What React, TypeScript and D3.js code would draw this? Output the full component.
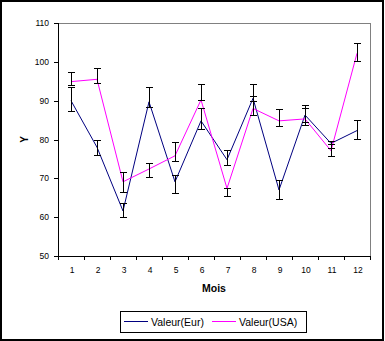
import React from "react";
import * as d3 from "d3";

const months = ["1", "2", "3", "4", "5", "6", "7", "8", "9", "10", "11", "12"];
const eur = [90.0, 78.0, 61.6, 89.7, 69.1, 84.8, 74.8, 90.6, 67.0, 86.3, 79.0, 82.3];
const usa = [94.9, 95.5, 69.1, 72.4, 75.8, 90.2, 67.4, 88.0, 84.8, 85.3, 77.1, 102.2];
const eurLow = [87.3, 75.8, 60.0, 88.3, 66.1, 82.6, 73.2, 89.7, 64.6, 84.3, 77.6, 79.9];
const eurHigh = [93.3, 79.8, 63.6, 93.4, 70.8, 87.9, 77.2, 94.1, 69.5, 88.7, 79.6, 84.9];
const usaLow = [93.8, 94.3, 66.3, 70.3, 74.3, 90.1, 65.2, 86.1, 83.4, 83.5, 75.6, 100.2];
const usaHigh = [97.3, 98.3, 71.5, 73.8, 79.3, 94.1, 67.4, 91.2, 87.8, 87.9, 78.8, 104.8];
const yTicks = [50, 60, 70, 80, 90, 100, 110];
const seriesNames = ["Valeur(Eur)", "Valeur(USA)"];

const W = 385;
const H = 341;
const L = 58, R = 370, T = 23, B = 256;
const font = "'Liberation Sans', Arial, sans-serif";

export default function App() {
  const x = d3.scaleBand<string>().domain(months).range([L, R]).padding(0);
  const y = d3.scaleLinear().domain([50, 110]).range([B, T]);
  const cx = (m: string) => (x(m) as number) + x.bandwidth() / 2;
  const line = d3
    .line<number>()
    .x((_, i) => cx(months[i]))
    .y((d) => y(d));

  const errBars = (lo: number[], hi: number[], key: string) =>
    lo.map((l, i) => {
      const xc = cx(months[i]);
      return (
        <g key={key + i} stroke="#000" strokeWidth={1} shapeRendering="crispEdges">
          <line x1={xc} x2={xc} y1={y(l)} y2={y(hi[i])} />
          <line x1={xc - 3.5} x2={xc + 3.5} y1={y(l)} y2={y(l)} />
          <line x1={xc - 3.5} x2={xc + 3.5} y1={y(hi[i])} y2={y(hi[i])} />
        </g>
      );
    });

  const boundaries = d3.range(months.length + 1).map((k) => L + k * x.bandwidth());

  return (
    <svg
      width={W}
      height={H}
      style={{ position: "absolute", left: 0, top: 0, background: "#fff" }}
      fontFamily={font}
    >
      <rect x={1} y={1} width={382} height={339} fill="#fff" stroke="#000" strokeWidth={2} />
      {/* plot frame */}
      <line x1={L} x2={R} y1={T + 0.5} y2={T + 0.5} stroke="#808080" />
      <line x1={R + 0.5} x2={R + 0.5} y1={T} y2={B} stroke="#808080" />
      <line x1={L + 0.5} x2={L + 0.5} y1={T} y2={B + 1} stroke="#000" />
      <line x1={L} x2={R + 1} y1={B + 0.5} y2={B + 0.5} stroke="#000" />
      {yTicks.map((t) => (
        <g key={"yt" + t}>
          <line x1={L - 4} x2={L} y1={Math.round(y(t)) + 0.5} y2={Math.round(y(t)) + 0.5} stroke="#000" />
          <text x={L - 9} y={y(t) + 3} fontSize={8.5} textAnchor="end" fill="#000">
            {t}
          </text>
        </g>
      ))}
      {boundaries.map((b, i) => (
        <line key={"xt" + i} x1={Math.round(b) + 0.5} x2={Math.round(b) + 0.5} y1={B} y2={B + 4} stroke="#000" />
      ))}
      {months.map((m) => (
        <text key={"xl" + m} x={cx(m) + 1} y={273} fontSize={8.5} textAnchor="middle" fill="#000">
          {m}
        </text>
      ))}
      <text x={(L + R) / 2} y={292} fontSize={10.5} fontWeight="bold" textAnchor="middle" fill="#000">
        Mois
      </text>
      <text
        transform={`translate(28,${(T + B) / 2}) rotate(-90)`}
        fontSize={10}
        fontWeight="bold"
        textAnchor="middle"
        fill="#000"
      >
        Y
      </text>
      <path d={line(eur) || ""} fill="none" stroke="#000080" strokeWidth={1} />
      <path d={line(usa) || ""} fill="none" stroke="#FF00FF" strokeWidth={1} />
      {errBars(eurLow, eurHigh, "e")}
      {errBars(usaLow, usaHigh, "u")}
      {/* legend */}
      <rect x={120.5} y={311.5} width={186} height={21} fill="#fff" stroke="#000" strokeWidth={1} />
      <line x1={124} x2={148} y1={321.5} y2={321.5} stroke="#000080" />
      <text x={151} y={325.5} fontSize={10.5} fill="#000">
        {seriesNames[0]}
      </text>
      <line x1={212} x2={236} y1={321.5} y2={321.5} stroke="#FF00FF" />
      <text x={239} y={325.5} fontSize={10.5} fill="#000">
        {seriesNames[1]}
      </text>
    </svg>
  );
}
